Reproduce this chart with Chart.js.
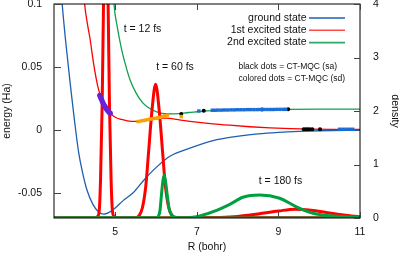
<!DOCTYPE html>
<html>
<head>
<meta charset="utf-8">
<script src="https://cdn.jsdelivr.net/npm/chart.js@4"></script>
<style>
  html, body { margin: 0; padding: 0; background: #fff; }
</style>
</head>
<body>
<canvas id="potChart" width="399" height="254"></canvas>
<script>
// potential energy curves, energy (Ha) against R (bohr)
const groundR = [3.62, 3.70, 3.80, 3.90, 4.00, 4.10, 4.20, 4.31, 4.45, 4.60, 4.72, 4.85, 5.00, 5.20, 5.44, 5.70, 6.00, 6.34, 6.83, 7.40, 7.90, 8.50, 9.00, 9.50, 10.00, 11.00];
const groundE = [0.135, 0.100, 0.066, 0.036, 0.008, -0.017, -0.034, -0.048, -0.059, -0.0655, -0.067, -0.0655, -0.062, -0.056, -0.050, -0.040, -0.030, -0.021, -0.0145, -0.0085, -0.0055, -0.0032, -0.0020, -0.0012, -0.0007, -0.0003];

const firstR = [4.18, 4.25, 4.32, 4.39, 4.45, 4.51, 4.57, 4.64, 4.72, 4.80, 4.90, 5.00, 5.15, 5.30, 5.50, 5.70, 5.90, 6.10, 6.25, 6.45, 6.70, 7.00, 7.40, 7.80, 8.30, 8.80, 9.30, 9.80, 10.40, 11.00];
const firstE = [0.130, 0.100, 0.084, 0.071, 0.057, 0.045, 0.035, 0.027, 0.020, 0.016, 0.0125, 0.010, 0.0083, 0.0072, 0.0068, 0.0072, 0.0082, 0.0092, 0.0094, 0.0086, 0.0074, 0.0062, 0.0048, 0.0037, 0.0025, 0.0016, 0.0010, 0.0006, 0.0004, 0.0003];

const secondR = [4.92, 4.97, 5.05, 5.15, 5.25, 5.36, 5.50, 5.65, 5.80, 6.00, 6.20, 6.45, 6.80, 7.20, 7.60, 8.00, 9.00, 10.00, 11.00];
const secondE = [0.130, 0.100, 0.082, 0.065, 0.052, 0.040, 0.030, 0.0225, 0.018, 0.0145, 0.0128, 0.0127, 0.0138, 0.0150, 0.0156, 0.0160, 0.0163, 0.0165, 0.0165];

// nuclear densities (right axis)
const red12R = [3.50, 4.50, 4.57, 4.61, 4.64, 4.68, 4.71, 4.77, 4.83, 4.86, 4.90, 4.93, 4.97, 5.05, 11.00];
const red12D = [0, 0, 0.03, 0.15, 0.7, 2.1, 3.8, 6.7, 3.8, 2.1, 0.7, 0.15, 0.03, 0, 0];

const red60R = [3.50, 5.52, 5.59, 5.67, 5.75, 5.82, 5.90, 5.99, 6.08, 6.16, 6.23, 6.31, 6.39, 6.46, 11.00];
const red60D = [0, 0.01, 0.05, 0.2, 0.6, 1.25, 2.0, 2.5, 2.0, 1.25, 0.6, 0.2, 0.05, 0.01, 0];

const green60R = [3.50, 6.00, 6.06, 6.10, 6.13, 6.17, 6.20, 6.23, 6.28, 6.32, 6.38, 6.45, 6.60, 11.00];
const green60D = [0, 0, 0.03, 0.15, 0.4, 0.7, 0.8, 0.7, 0.4, 0.18, 0.06, 0.02, 0, 0];

const red180R = [3.50, 7.00, 7.50, 8.00, 8.50, 9.00, 9.40, 9.80, 10.20, 10.60, 11.00];
const red180D = [0, 0, 0.01, 0.03, 0.075, 0.13, 0.165, 0.145, 0.10, 0.055, 0.02];

const green180R = [3.50, 6.60, 6.99, 7.40, 7.81, 8.13, 8.54, 9.03, 9.44, 9.85, 10.26, 10.83, 11.00];
const green180D = [0, 0, 0.024, 0.118, 0.256, 0.387, 0.43, 0.37, 0.21, 0.088, 0.04, 0.02, 0.015];

// CT-MQC trajectories
const purpleR = [4.62, 4.64, 4.66, 4.68, 4.70, 4.72, 4.74, 4.76, 4.78, 4.80, 4.82, 4.85, 4.88];
const purpleE = [0.0275, 0.026, 0.0245, 0.023, 0.0215, 0.020, 0.019, 0.018, 0.017, 0.016, 0.0152, 0.014, 0.0133];

const orangeR = [5.56, 5.62, 5.68, 5.74, 5.80, 5.86, 5.92, 5.98, 6.04, 6.10, 6.16, 6.22, 6.28, 6.62];
const orangeE = [0.0066, 0.0070, 0.0074, 0.0078, 0.0082, 0.0086, 0.0089, 0.0092, 0.0096, 0.0100, 0.0105, 0.0111, 0.0117, 0.0106];

const blueDotR = [7.05, 7.38, 7.45, 7.52, 7.60, 7.68, 7.76, 7.84, 7.92, 8.00, 8.08, 8.16, 8.24, 8.32, 8.40, 8.48, 8.56, 8.64, 8.72, 8.80, 8.88, 8.96, 9.04, 9.12, 9.18, 10.50, 10.58, 10.66, 10.74, 10.82];
const blueDotE = [0.0150, 0.0156, 0.0156, 0.0157, 0.0157, 0.0158, 0.0158, 0.0159, 0.0159, 0.0160, 0.0160, 0.0160, 0.0161, 0.0161, 0.0161, 0.0161, 0.0162, 0.0162, 0.0162, 0.0162, 0.0162, 0.0163, 0.0163, 0.0163, 0.0163, 0.0005, 0.0005, 0.0005, 0.0005, 0.0005];

const blackDotR = [6.62, 7.17, 8.60, 9.24, 9.62, 9.67, 9.72, 9.77, 9.83, 10.02];
const blackDotE = [0.0127, 0.0152, 0.0162, 0.0163, 0.0006, 0.0006, 0.0006, 0.0006, 0.0006, 0.0006];

// axes
const xTicks = [5, 7, 9, 11];
const yTicks = [-0.05, 0, 0.05, 0.1];
const yTickLabels = ['-0.05', '0', '0.05', '0.1'];
const y2Ticks = [0, 1, 2, 3, 4];

const legendNames = ['ground state', '1st excited state', '2nd excited state'];
const timeLabels = ['t = 12 fs', 't = 60 fs', 't = 180 fs'];

const BLUE = '#1f5fb0';
const RED = '#ff0000';
const GREEN = '#10a050';
const FONT = '"Liberation Sans", Arial, sans-serif';

function pts(xs, ys) {
  return xs.map((x, i) => ({ x: x, y: ys[i] }));
}

function curve(xs, ys, color, order) {
  return {
    data: pts(xs, ys), borderColor: color, borderWidth: 1.3, pointRadius: 0,
    cubicInterpolationMode: 'monotone', yAxisID: 'y', order: order
  };
}

function density(xs, ys, color, order) {
  return {
    data: pts(xs, ys), borderColor: color, borderWidth: 3, pointRadius: 0,
    cubicInterpolationMode: 'monotone', yAxisID: 'y2', order: order
  };
}

function dots(xs, ys, color, style, r) {
  return {
    data: pts(xs, ys), showLine: false, pointStyle: style, pointRadius: r,
    backgroundColor: color, borderWidth: 0, yAxisID: 'y', order: 0
  };
}

// scales keep fixed sizes so the plot box lands where the reference has it
function fixSize(w, h) {
  return s => {
    if (w) s.width = w;
    if (h) s.height = h;
    s.paddingTop = 0; s.paddingBottom = 0;
    s.paddingLeft = 0; s.paddingRight = 0;
  };
}

// frame, inward ticks, legend and time labels
const framePlugin = {
  id: 'frame',
  afterDatasetsDraw(chart) {
    const { ctx, chartArea: a, scales } = chart;
    ctx.save();
    ctx.strokeStyle = '#000';
    ctx.lineWidth = 1;
    ctx.strokeRect(a.left, a.top, a.right - a.left, a.bottom - a.top);

    ctx.strokeStyle = '#444';
    ctx.beginPath();
    xTicks.forEach(v => {
      const px = Math.round(scales.x.getPixelForValue(v)) + 0.5;
      ctx.moveTo(px, a.bottom); ctx.lineTo(px, a.bottom - 6);
      ctx.moveTo(px, a.top); ctx.lineTo(px, a.top + 6);
    });
    yTicks.forEach(v => {
      const py = Math.round(scales.y.getPixelForValue(v)) + 0.5;
      ctx.moveTo(a.left, py); ctx.lineTo(a.left + 7, py);
    });
    y2Ticks.forEach(v => {
      const py = Math.round(scales.y2.getPixelForValue(v)) + 0.5;
      ctx.moveTo(a.right, py); ctx.lineTo(a.right - 6, py);
    });
    ctx.stroke();

    // legend
    const colors = [BLUE, '#ff4a4a', '#30a868'];
    ctx.font = '10.5px ' + FONT;
    ctx.fillStyle = '#111';
    ctx.textAlign = 'right';
    ctx.textBaseline = 'middle';
    legendNames.forEach((name, i) => {
      const y = 18 + i * 12.3;
      ctx.fillText(name, 306.5, y);
      ctx.strokeStyle = colors[i];
      ctx.lineWidth = 1.6;
      ctx.beginPath();
      ctx.moveTo(309, y); ctx.lineTo(345, y);
      ctx.stroke();
    });

    ctx.font = '8.5px ' + FONT;
    ctx.textAlign = 'left';
    ctx.fillText('black dots = CT-MQC (sa)', 238.5, 67);
    ctx.fillText('colored dots = CT-MQC (sd)', 238.5, 79);

    // snapshot times
    ctx.font = '10.5px ' + FONT;
    ctx.textAlign = 'center';
    ctx.fillText(timeLabels[0], 142.5, 29);
    ctx.fillText(timeLabels[1], 175, 67);
    ctx.fillText(timeLabels[2], 280.5, 181);
    ctx.restore();
  }
};

const tickFont = { family: FONT, size: 10.5 };

new Chart(document.getElementById('potChart'), {
  type: 'line',
  data: {
    datasets: [
      curve(groundR, groundE, BLUE, 4),
      curve(firstR, firstE, RED, 4),
      curve(secondR, secondE, GREEN, 4),
      density(red12R, red12D, RED, 3),
      density(red60R, red60D, RED, 3),
      density(red180R, red180D, RED, 3),
      density(green60R, green60D, '#00a040', 2),
      density(green180R, green180D, '#00a040', 2),
      dots(purpleR, purpleE, '#6a22d8', 'circle', 2.6),
      dots(orangeR, orangeE, '#f5a300', 'rect', 2.4),
      dots(blueDotR, blueDotE, '#1a6cd8', 'rect', 2.4),
      dots(blackDotR, blackDotE, '#000', 'circle', 2)
    ]
  },
  options: {
    responsive: false,
    animation: false,
    devicePixelRatio: 1,
    layout: { padding: { top: 4, left: 0, right: 0, bottom: 0 } },
    plugins: { legend: { display: false }, tooltip: { enabled: false } },
    scales: {
      x: {
        type: 'linear', min: 3.5, max: 11, position: 'bottom',
        afterBuildTicks: s => { s.ticks = xTicks.map(v => ({ value: v })); },
        afterFit: fixSize(0, 36),
        ticks: { font: tickFont, color: '#111', padding: 8, maxRotation: 0 },
        grid: { display: false, drawTicks: false },
        border: { display: false },
        title: { display: true, text: 'R (bohr)', font: tickFont, color: '#111', padding: { top: 0, bottom: 1 } }
      },
      y: {
        position: 'left', min: -0.07, max: 0.1,
        afterBuildTicks: s => { s.ticks = yTicks.map(v => ({ value: v })); },
        afterFit: fixSize(54, 0),
        ticks: {
          font: tickFont, color: '#111', padding: 12,
          callback: v => {
            const i = yTicks.findIndex(t => Math.abs(t - v) < 1e-9);
            return i >= 0 ? yTickLabels[i] : '';
          }
        },
        grid: { display: false, drawTicks: false },
        border: { display: false },
        title: { display: true, text: 'energy (Ha)', font: tickFont, color: '#111', padding: { top: 1, bottom: 0 } }
      },
      y2: {
        position: 'right', min: 0, max: 4,
        afterBuildTicks: s => { s.ticks = y2Ticks.map(v => ({ value: v })); },
        afterFit: fixSize(39, 0),
        ticks: { font: tickFont, color: '#111', padding: 13 },
        grid: { display: false, drawTicks: false },
        border: { display: false },
        title: { display: true, text: 'density', font: tickFont, color: '#111', padding: { top: -2, bottom: 0 } }
      }
    }
  },
  plugins: [framePlugin]
});
</script>
</body>
</html>
